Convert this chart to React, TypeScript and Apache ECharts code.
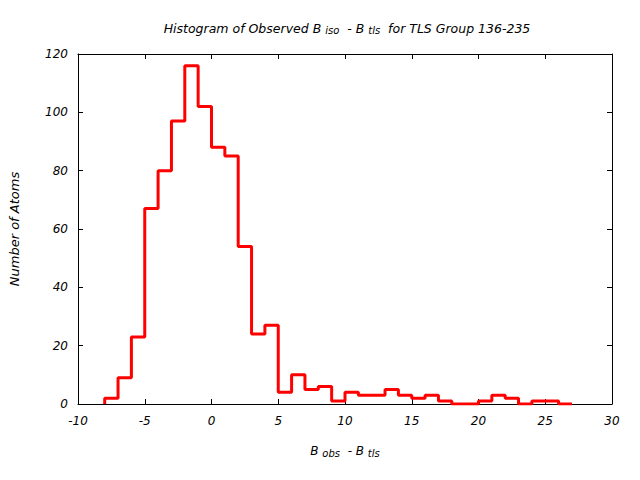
import React, { useEffect, useRef } from "react";
import * as echarts from "echarts";

// Histogram bins: left edges (width 1) and counts
const binStart = -8;
const binWidth = 1;
const counts = [2, 9, 23, 67, 80, 97, 116, 102, 88, 85, 54, 24, 27, 4, 10, 5, 6, 1, 4, 3, 3, 5, 3, 2, 3, 1, 0, 0, 1, 3, 2, 0, 1, 1, 0];

const xTicks = [-10, 30, 5]; // min, max, interval
const yTicks = [0, 120, 20];

const FONT = "DejaVu Sans";

export default function App() {
  const ref = useRef<HTMLDivElement>(null);
  useEffect(() => {
    if (!ref.current) return;
    const chart = echarts.init(ref.current, undefined, { renderer: "svg" });
    const pts: [number, number][] = [[binStart, 0]];
    counts.forEach((v, i) => {
      const e = binStart + i * binWidth;
      pts.push([e, v]);
      pts.push([e + binWidth, v]);
    });
    const base = { fontFamily: FONT, fontStyle: "italic", fontWeight: "normal", fontSize: 12, color: "#000", lineHeight: 14 };
    const sub = { fontFamily: FONT, fontStyle: "italic", fontWeight: "normal", fontSize: 10, color: "#000", lineHeight: 12, padding: [8, 0, 0, 0], verticalAlign: "bottom" };
    const tbase = { ...base, fontSize: 12.5 };
    const tick = { show: true, inside: true, length: 5, lineStyle: { color: "#000", width: 1 } };
    const line = { show: true, onZero: false, lineStyle: { color: "#000", width: 1 } };
    const xCommon = { type: "value", min: xTicks[0], max: xTicks[1], interval: xTicks[2], splitLine: { show: false }, axisLine: line };
    const yCommon = { type: "value", min: yTicks[0], max: yTicks[1], interval: yTicks[2], splitLine: { show: false }, axisLine: line };
    chart.setOption({
      animation: false,
      backgroundColor: "#fff",
      title: {
        text: "{b|Histogram of Observed B }{s|iso}{b|  - B }{s|tls}{b|  for TLS Group 136-235}",
        left: 342,
        textAlign: "center",
        top: 16,
        textStyle: { fontWeight: "normal", rich: { b: tbase, s: sub } },
      },
      grid: { left: 76, top: 54, width: 536, height: 350, show: false },
      xAxis: [
        {
          ...xCommon,
          position: "bottom",
          axisTick: tick,
          axisLabel: { fontFamily: FONT, fontStyle: "italic", fontSize: 12, color: "#000", margin: 11 },
          name: "{b|B }{s|obs}{b|  - B }{s|tls}",
          nameLocation: "middle",
          nameGap: 40,
          nameTextStyle: { rich: { b: base, s: sub } },
        },
        { ...xCommon, position: "top", axisTick: tick, axisLabel: { show: false } },
      ],
      yAxis: [
        {
          ...yCommon,
          position: "left",
          axisTick: tick,
          axisLabel: { fontFamily: FONT, fontStyle: "italic", fontSize: 12, color: "#000", margin: 10 },
          name: "Number of Atoms",
          nameLocation: "middle",
          nameGap: 57,
          nameTextStyle: { fontFamily: FONT, fontStyle: "italic", fontSize: 13, color: "#000" },
        },
        { ...yCommon, position: "right", axisTick: tick, axisLabel: { show: false } },
      ],
      series: [
        {
          type: "line",
          data: pts,
          showSymbol: false,
          symbol: "none",
          lineStyle: { color: "#ff0000", width: 3 },
          z: 1,
        },
      ],
    });
    return () => chart.dispose();
  }, []);
  return <div ref={ref} style={{ width: 640, height: 480, position: "absolute", left: 0, top: 0 }} />;
}
